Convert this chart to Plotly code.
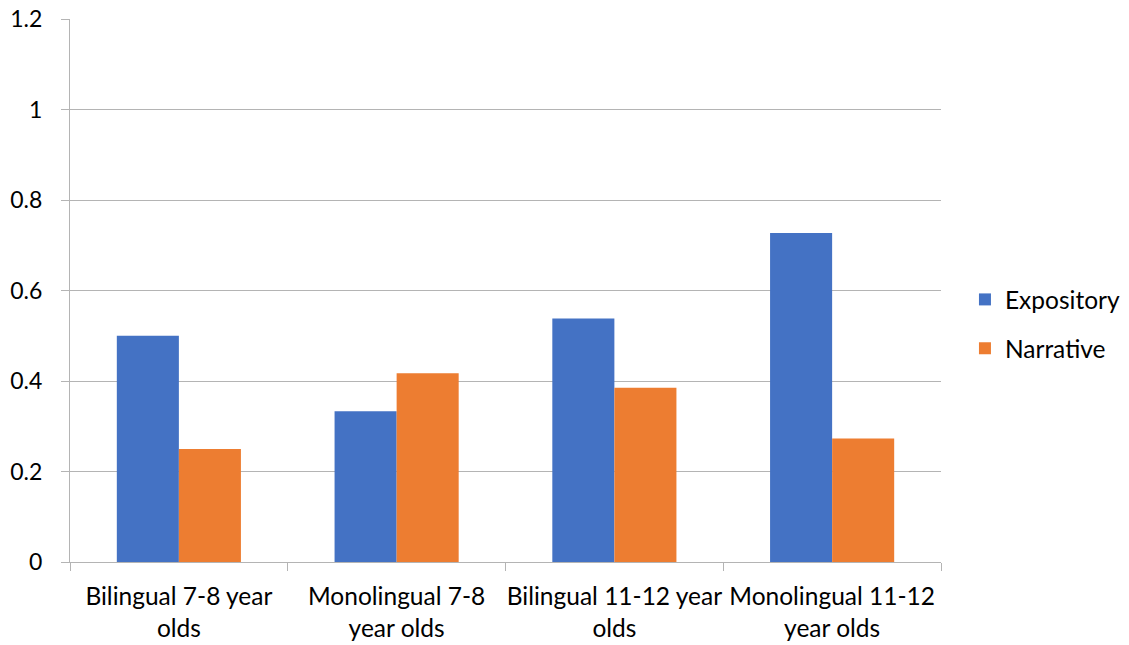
import plotly.graph_objects as go

categories = ["Bilingual 7-8 year<br>olds", "Monolingual 7-8<br>year olds",
              "Bilingual 11-12 year<br>olds", "Monolingual 11-12<br>year olds"]
expository = [0.5, 0.333, 0.538, 0.727]
narrative = [0.25, 0.417, 0.385, 0.273]
y_ticks = [0, 0.2, 0.4, 0.6, 0.8, 1, 1.2]

FONT = "Lato, Open Sans, sans-serif"
GRID = "#b4b4b4"
FS = 24.5

fig = go.Figure()
fig.add_trace(go.Bar(x=categories, y=expository, name="Expository",
                     marker=dict(color="#4472C4", line=dict(width=0)), legendgroup="a"))
fig.add_trace(go.Bar(x=categories, y=narrative, name="Narrative",
                     marker=dict(color="#ED7D31", line=dict(width=0)), legendgroup="b"))

fig.update_layout(
    width=1129, height=645,
    margin=dict(l=70, r=188, t=19, b=83),
    paper_bgcolor="white", plot_bgcolor="white",
    barmode="group", bargap=0.43, bargroupgap=0,
    font=dict(family=FONT, size=FS, color="#000000"),
    legend=dict(xref="container", yref="container", x=0.8547, y=0.4977,
                xanchor="left", yanchor="middle",
                traceorder="grouped", tracegroupgap=14,
                font=dict(size=FS), itemwidth=30),
    showlegend=True,
)
fig.update_xaxes(
    type="category", tickson="boundaries", ticks="outside", ticklen=8,
    tickcolor=GRID, tickwidth=1, showline=True, linecolor=GRID, linewidth=1,
    showgrid=False, tickfont=dict(size=FS), tickangle=0,
    ticklabelstandoff=13, automargin=False,
)
fig.update_yaxes(
    range=[0, 1.2], tickvals=y_ticks, ticktext=[str(v) for v in y_ticks],
    ticks="outside", ticklen=8, tickcolor=GRID, tickwidth=1,
    showgrid=True, gridcolor=GRID, gridwidth=1, zeroline=False,
    showline=True, linecolor=GRID, linewidth=1,
    tickfont=dict(size=23), ticklabelstandoff=14, automargin=False,
)

fig.write_html("out.html")
